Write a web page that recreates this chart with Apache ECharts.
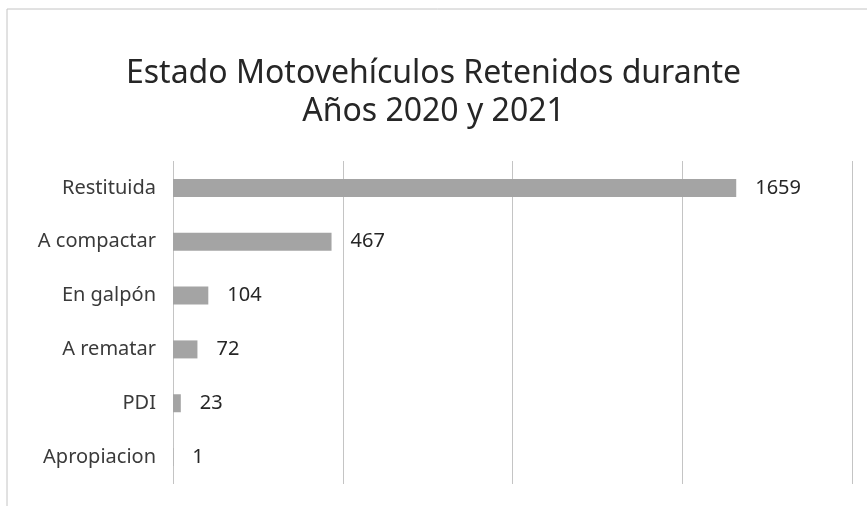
<!DOCTYPE html>
<html lang="es">
<head>
  <meta charset="UTF-8">
  <title>Estado Motovehículos Retenidos</title>
  <script src="https://cdn.jsdelivr.net/npm/echarts@6/dist/echarts.min.js"></script>
  <style>
    html, body { margin: 0; padding: 0; background: #fff; }
    #chart { width: 867px; height: 506px; }
  </style>
</head>
<body>
  <div id="chart"></div>
  <script>
    // datos del gráfico
    const categorias = ['Restituida', 'A compactar', 'En galpón', 'A rematar', 'PDI', 'Apropiacion'];
    const valores = [1659, 467, 104, 72, 23, 1];
    const titulo = 'Estado Motovehículos Retenidos durante\nAños 2020 y 2021';

    const fuente = '"Noto Sans", sans-serif';
    const myChart = echarts.init(document.getElementById('chart'));

    const option = {
      backgroundColor: '#fff',
      animation: false,
      title: {
        text: titulo,
        left: 'center',
        top: 50,
        textStyle: {
          fontFamily: fuente,
          fontSize: 32,
          fontWeight: 'normal',
          color: '#262626',
          lineHeight: 38
        }
      },
      // marco exterior (solo se ven borde superior e izquierdo)
      graphic: [{
        type: 'rect',
        shape: { x: 7, y: 9, width: 900, height: 600 },
        style: { fill: 'none', stroke: '#c4c4c4', lineWidth: 1 }
      }],
      grid: { left: 173, right: 15, top: 161, bottom: 22 },
      xAxis: {
        type: 'value',
        min: 0,
        max: 2000,
        interval: 500,
        axisLabel: { show: false },
        axisLine: { show: false },
        axisTick: { show: false },
        splitLine: { lineStyle: { color: '#c4c4c4', width: 1 } }
      },
      yAxis: {
        type: 'category',
        inverse: true,
        data: categorias,
        axisLine: { show: false },
        axisTick: { show: false },
        axisLabel: {
          margin: 17,
          fontFamily: fuente,
          fontSize: 20,
          color: '#3a3a3a'
        }
      },
      series: [{
        type: 'bar',
        data: valores,
        barWidth: 18,
        itemStyle: { color: '#a4a4a4' },
        label: {
          show: true,
          position: 'right',
          distance: 19,
          fontFamily: fuente,
          fontSize: 20,
          color: '#262626'
        }
      }]
    };
    myChart.setOption(option);
  </script>
</body>
</html>
